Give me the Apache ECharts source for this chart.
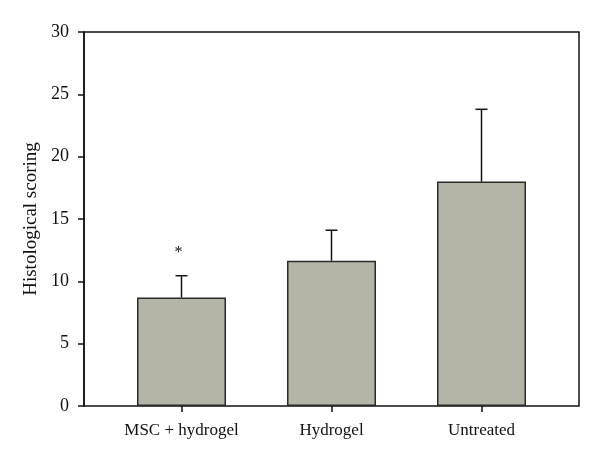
<!DOCTYPE html>
<html>
<head>
<meta charset="utf-8">
<script src="https://cdn.jsdelivr.net/npm/echarts@6/dist/echarts.min.js"></script>
<style>html,body{margin:0;padding:0;background:#fff}#c{width:600px;height:462px}</style>
</head>
<body>
<div id="c"></div>
<script>
var categories = ['MSC + hydrogel', 'Hydrogel', 'Untreated'];
var means = [8.7, 11.65, 18.0];
var upperErr = [10.45, 14.1, 23.8];
var significance = ['*', '', ''];
var yTicks = [0, 5, 10, 15, 20, 25, 30];

var FONT = '"Liberation Serif", "DejaVu Serif", serif';
var chart = echarts.init(document.getElementById('c'), null, {renderer: 'canvas'});

var errData = categories.map(function (c, i) { return [i, means[i], upperErr[i], significance[i]]; });

chart.setOption({
  animation: false,
  backgroundColor: '#fff',
  grid: [
    {left: 84, right: 21, top: 32, bottom: 56, show: true, borderColor: '#111', borderWidth: 1.5, backgroundColor: 'transparent'},
    {left: 106.5, right: 43.5, top: 32, bottom: 56}
  ],
  xAxis: [
    {gridIndex: 0, type: 'value', min: 0, max: 1, show: false},
    {gridIndex: 1, type: 'category', data: categories, boundaryGap: true,
     axisLine: {show: false},
     axisTick: {show: true, alignWithLabel: true, length: 6, lineStyle: {color: '#111', width: 1.5}},
     axisLabel: {fontFamily: FONT, fontSize: 17, color: '#111', margin: 16}}
  ],
  yAxis: [
    {gridIndex: 0, type: 'value', min: 0, max: 30, interval: 5,
     name: 'Histological scoring', nameLocation: 'middle', nameGap: 37,
     nameTextStyle: {fontFamily: FONT, fontSize: 19, color: '#111'},
     axisLine: {show: true, lineStyle: {color: '#111', width: 1.5}},
     axisTick: {show: true, length: 6, lineStyle: {color: '#111', width: 1.5}},
     axisLabel: {fontFamily: FONT, fontSize: 18, color: '#111', margin: 15},
     splitLine: {show: false}},
    {gridIndex: 1, type: 'value', min: 0, max: 30, show: false}
  ],
  series: [
    {type: 'bar', xAxisIndex: 1, yAxisIndex: 1, data: means, barWidth: 89,
     itemStyle: {color: '#b4b4a7', borderColor: '#2a2a2a', borderWidth: 1.5}, z: 2},
    {type: 'custom', xAxisIndex: 1, yAxisIndex: 1, data: errData, z: 3,
     renderItem: function (params, api) {
       var x = api.value(0);
       var pLow = api.coord([x, api.value(1)]);
       var pHigh = api.coord([x, api.value(2)]);
       var cap = 6;
       var children = [
         {type: 'line', shape: {x1: pLow[0], y1: pLow[1], x2: pHigh[0], y2: pHigh[1]}, style: {stroke: '#111', lineWidth: 1.5}},
         {type: 'line', shape: {x1: pHigh[0] - cap, y1: pHigh[1], x2: pHigh[0] + cap, y2: pHigh[1]}, style: {stroke: '#111', lineWidth: 1.5}}
       ];
       var sig = api.value(3);
       if (sig) {
         children.push({type: 'text', style: {text: sig, x: pHigh[0] - 3, y: pHigh[1] - 23, fontFamily: FONT, fontSize: 16, fill: '#111', align: 'center', verticalAlign: 'middle'}});
       }
       return {type: 'group', children: children};
     }}
  ]
});
</script>
</body>
</html>
